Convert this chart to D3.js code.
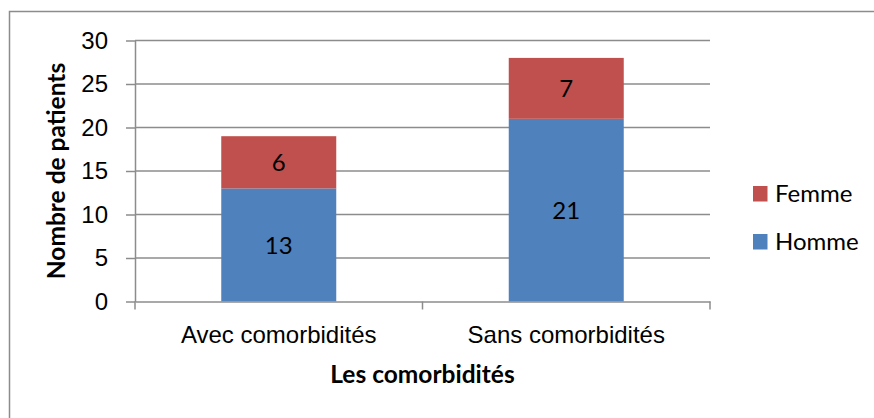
<!DOCTYPE html>
<html>
<head>
<meta charset="utf-8">
<script src="https://cdn.jsdelivr.net/npm/d3@7"></script>
<style>
  body { margin: 0; background: #fff; }
  svg { display: block; font-family: Lato, "Open Sans", sans-serif; }
</style>
</head>
<body>
<div id="chart"></div>
<script>
var categories = ["Avec comorbidités", "Sans comorbidités"];
var homme = [13, 21];
var femme = [6, 7];
var yTicks = [0, 5, 10, 15, 20, 25, 30];
var seriesNames = ["Homme", "Femme"];

var width = 874,
    height = 418,
    margin = {top: 40.5, right: 164, bottom: 116.5, left: 135};

var colors = {Homme: "#4f81bd", Femme: "#c0504d"};

var rows = categories.map((c, i) => ({cat: c, Homme: homme[i], Femme: femme[i]}));
var stacked = d3.stack().keys(seriesNames)(rows);

var svg = d3.select("#chart")
    .append("svg")
    .attr("width", width)
    .attr("height", height);

// chart frame
svg.append("rect")
    .attr("x", 9.5).attr("y", 11.5)
    .attr("width", 1000).attr("height", 1000)
    .attr("fill", "none")
    .attr("stroke", "#8c8c8c")
    .attr("stroke-width", 1.5);

var g = svg.append("g")
    .attr("transform", `translate(${margin.left},${margin.top})`);

var innerW = width - margin.left - margin.right,
    innerH = height - margin.top - margin.bottom;

var xScale = d3.scaleBand().domain(categories).range([0, innerW]).paddingInner(0).paddingOuter(0);
var yScale = d3.scaleLinear().domain([0, 30]).range([innerH, 0]);

// gridlines
g.selectAll(".grid")
    .data(yTicks.filter(d => d > 0))
    .enter().append("line")
    .attr("x1", 0).attr("x2", innerW)
    .attr("y1", d => yScale(d)).attr("y2", d => yScale(d))
    .attr("stroke", "#8c8c8c")
    .attr("stroke-width", 1.5);

// bars
var barW = xScale.bandwidth() * 0.4;
var layer = g.selectAll(".layer")
    .data(stacked)
    .enter().append("g")
    .attr("fill", d => colors[d.key]);

layer.selectAll("rect")
    .data(d => d)
    .enter().append("rect")
    .attr("x", d => xScale(d.data.cat) + (xScale.bandwidth() - barW) / 2)
    .attr("y", d => yScale(d[1]))
    .attr("width", barW)
    .attr("height", d => yScale(d[0]) - yScale(d[1]));

// value labels
layer.selectAll("text")
    .data(d => d)
    .enter().append("text")
    .attr("x", d => xScale(d.data.cat) + xScale.bandwidth() / 2)
    .attr("y", d => (yScale(d[0]) + yScale(d[1])) / 2)
    .attr("dy", "0.38em")
    .attr("text-anchor", "middle")
    .attr("fill", "#000")
    .style("font-size", "24px")
    .text(d => d[1] - d[0]);

// Y axis
var yAxis = d3.axisLeft(yScale).tickValues(yTicks).tickSize(9).tickPadding(18).tickSizeOuter(0);
var yG = g.append("g").call(yAxis);
yG.select(".domain").attr("stroke", "#8c8c8c").attr("stroke-width", 1.5);
yG.selectAll(".tick line").attr("stroke", "#8c8c8c").attr("stroke-width", 1.5);
yG.selectAll(".tick text").style("font-size", "24px").attr("fill", "#000").attr("font-family", null);

// X axis
var xAxis = d3.axisBottom(xScale).tickSize(0).tickPadding(24.5);
var xG = g.append("g").attr("transform", `translate(0,${innerH})`).call(xAxis);
xG.select(".domain").attr("stroke", "#8c8c8c").attr("stroke-width", 1.5);
xG.selectAll(".tick text").style("font-size", "24px").attr("fill", "#000").attr("font-family", null);
// category separators
xG.selectAll(".sep")
    .data([0, innerW / 2, innerW])
    .enter().append("line")
    .attr("x1", d => d).attr("x2", d => d)
    .attr("y1", 0).attr("y2", 8)
    .attr("stroke", "#8c8c8c")
    .attr("stroke-width", 1.5);

// axis titles
svg.append("text")
    .attr("transform", `translate(65,${margin.top + innerH / 2}) rotate(-90)`)
    .attr("text-anchor", "middle")
    .style("font-size", "24.5px")
    .style("font-weight", "bold")
    .text("Nombre de patients");

svg.append("text")
    .attr("x", margin.left + innerW / 2)
    .attr("y", 383)
    .attr("text-anchor", "middle")
    .style("font-size", "24.5px")
    .style("font-weight", "bold")
    .text("Les comorbidités");

// legend
var legend = svg.selectAll(".legend")
    .data(["Femme", "Homme"])
    .enter().append("g")
    .attr("transform", (d, i) => `translate(753,${186 + i * 48})`);

legend.append("rect")
    .attr("width", 14.5).attr("height", 15.5)
    .attr("fill", d => colors[d]);

legend.append("text")
    .attr("x", 22).attr("y", 15.5)
    .style("font-size", "24px")
    .text(d => d);
</script>
</body>
</html>
